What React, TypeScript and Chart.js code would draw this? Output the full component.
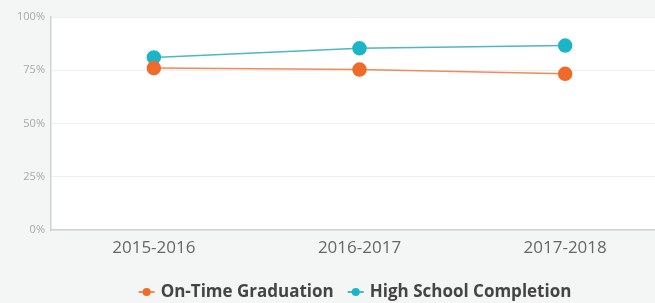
import React, { useEffect, useRef } from "react";
import { Chart, registerables } from "chart.js";

Chart.register(...registerables);

const years = ["2015-2016", "2016-2017", "2017-2018"];
const onTimeGraduation = [76, 75.3, 73.3];
const highSchoolCompletion = [81, 85.3, 86.6];
const yTicks = [0, 25, 50, 75, 100];
const seriesNames = ["On-Time Graduation", "High School Completion"];

const ORANGE = "#f06a2a";
const TEAL = "#1cb5c8";
const LEGEND_FONT = "bold 17px 'Open Sans'";

const bgPlugin = {
  id: "bgPlugin",
  beforeDraw(chart: any) {
    const { ctx, chartArea, width, height } = chart;
    ctx.save();
    ctx.fillStyle = "#f4f6f6";
    ctx.fillRect(0, 0, width, height);
    ctx.fillStyle = "#ffffff";
    ctx.fillRect(chartArea.left, chartArea.top, chartArea.right - chartArea.left, chartArea.bottom - chartArea.top);
    ctx.restore();
  },
};

const legendPlugin = {
  id: "customLegend",
  afterDraw(chart: any) {
    const { ctx } = chart;
    ctx.save();
    ctx.font = LEGEND_FONT;
    const markerW = 16;
    const gapText = 6;
    const gapItems = 14;
    const items = chart.data.datasets.map((ds: any) => ({
      label: ds.label,
      color: ds.pointBackgroundColor,
      line: ds.borderColor,
      w: ctx.measureText(ds.label).width,
    }));
    const total = items.reduce((s: number, it: any) => s + markerW + gapText + it.w, 0) + gapItems * (items.length - 1);
    let x = 355 - total / 2;
    const y = 292;
    items.forEach((it: any) => {
      ctx.strokeStyle = it.line;
      ctx.lineWidth = 2;
      ctx.beginPath();
      ctx.moveTo(x, y);
      ctx.lineTo(x + markerW, y);
      ctx.stroke();
      ctx.fillStyle = it.color;
      ctx.beginPath();
      ctx.arc(x + markerW / 2, y, 4, 0, Math.PI * 2);
      ctx.fill();
      x += markerW + gapText;
      ctx.fillStyle = "#444444";
      ctx.textBaseline = "middle";
      ctx.textAlign = "left";
      ctx.fillText(it.label, x, y);
      x += it.w + gapItems;
    });
    ctx.restore();
  },
};

export default function App() {
  const ref = useRef<HTMLCanvasElement>(null);
  useEffect(() => {
    document.body.style.margin = "0";
    document.body.style.overflow = "hidden";
    const chart = new Chart(ref.current!, {
      type: "line",
      data: {
        labels: years,
        datasets: [
          {
            label: seriesNames[0],
            data: onTimeGraduation,
            borderColor: "#f08a5a",
            backgroundColor: ORANGE,
            pointBackgroundColor: ORANGE,
            pointBorderColor: ORANGE,
            borderWidth: 1.5,
            pointRadius: 6.5,
            pointHoverRadius: 6.5,
            tension: 0,
          },
          {
            label: seriesNames[1],
            data: highSchoolCompletion,
            borderColor: "#4fb6c4",
            backgroundColor: TEAL,
            pointBackgroundColor: TEAL,
            pointBorderColor: TEAL,
            borderWidth: 1.5,
            pointRadius: 6.5,
            pointHoverRadius: 6.5,
            tension: 0,
          },
        ],
      },
      options: {
        animation: false,
        responsive: false,
        layout: { padding: { top: 17, right: 0, left: 0, bottom: 0 } },
        plugins: {
          tooltip: { enabled: false },
          legend: { display: false },
        },
        scales: {
          x: {
            offset: true,
            grid: { display: false, drawTicks: false },
            border: { display: true, color: "#cfd3d3", width: 1.5 },
            ticks: { color: "#666", padding: 8, font: { family: "Open Sans", size: 17 } },
            afterFit(axis: any) {
              axis.height = 73;
            },
          },
          y: {
            min: 0,
            max: 100,
            afterBuildTicks(axis: any) {
              axis.ticks = yTicks.map((v) => ({ value: v }));
            },
            afterFit(axis: any) {
              axis.width = 51;
            },
            grid: { color: "#eeeeee", drawTicks: false },
            border: { display: true, color: "#cfd3d3", width: 1.5 },
            ticks: {
              color: "#a8a8a8",
              padding: 6,
              font: { family: "Open Sans", size: 11 },
              callback: (v: any) => v + "%",
            },
          },
        },
      },
      plugins: [bgPlugin, legendPlugin],
    });
    return () => chart.destroy();
  }, []);
  return (
    <div style={{ width: 676, height: 303 }}>
      <canvas ref={ref} width={676} height={303} />
    </div>
  );
}
